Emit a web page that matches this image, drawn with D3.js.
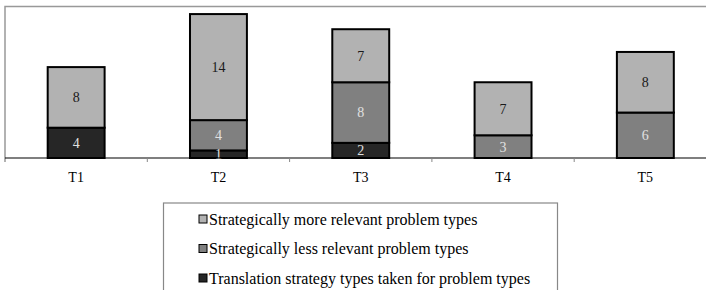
<!DOCTYPE html>
<html>
<head>
<meta charset="utf-8">
<script src="https://cdn.jsdelivr.net/npm/d3@7"></script>
<style>
  html, body { margin: 0; padding: 0; background: #fff; }
  svg { display: block; }
</style>
</head>
<body>
<div id="chart"></div>
<script>
// chart data
const categories = ["T1", "T2", "T3", "T4", "T5"];
const seriesNames = [
  "Translation strategy types taken for problem types",
  "Strategically less relevant problem types",
  "Strategically more relevant problem types"
];
const translationTaken = [4, 1, 2, 0, 0];
const lessRelevant = [0, 4, 8, 3, 6];
const moreRelevant = [8, 14, 7, 7, 8];
const seriesColors = ["#262626", "#808080", "#b2b2b2"];
const labelColors = ["#e0e0e0", "#e0e0e0", "#1a1a1a"];

const serif = "Liberation Serif, Times New Roman, DejaVu Serif, serif";
const width = 706, height = 290;
const plot = { left: 5, top: 6.5, bottom: 158 };
const step = 142.3;

const rows = categories.map((c, i) => ({
  cat: c,
  s0: translationTaken[i],
  s1: lessRelevant[i],
  s2: moreRelevant[i]
}));
const stack = d3.stack().keys(["s0", "s1", "s2"])(rows);

const svg = d3.select("#chart").append("svg")
  .attr("width", width)
  .attr("height", height)
  .attr("font-family", serif);

const x = d3.scaleBand()
  .domain(categories)
  .range([plot.left, plot.left + step * 5])
  .paddingInner(0.6)
  .paddingOuter(0.3);

const y = d3.scaleLinear()
  .domain([0, 20])
  .range([plot.bottom, plot.top]);

// plot area border (top + left)
svg.append("path")
  .attr("d", `M${plot.left},${plot.bottom + 4} V${plot.top} H${width}`)
  .attr("fill", "none")
  .attr("stroke", "#999")
  .attr("stroke-width", 1.5);

// bars
const layer = svg.selectAll("g.layer")
  .data(stack)
  .enter().append("g")
  .attr("class", "layer")
  .attr("fill", (d, i) => seriesColors[i]);

layer.selectAll("rect")
  .data(d => d.filter(p => p[1] - p[0] > 0))
  .enter().append("rect")
  .attr("x", d => x(d.data.cat))
  .attr("y", d => y(d[1]))
  .attr("width", x.bandwidth())
  .attr("height", d => y(d[0]) - y(d[1]))
  .attr("stroke", "#000")
  .attr("stroke-width", 2);

// value labels
stack.forEach((s, si) => {
  svg.append("g").selectAll("text")
    .data(s.filter(p => p[1] - p[0] > 0))
    .enter().append("text")
    .attr("font-family", serif)
    .attr("x", d => x(d.data.cat) + x.bandwidth() / 2)
    .attr("y", d => (y(d[0]) + y(d[1])) / 2)
    .attr("dy", "0.35em")
    .attr("text-anchor", "middle")
    .attr("font-size", 14)
    .attr("fill", labelColors[si])
    .text(d => d[1] - d[0]);
});

// x axis
const xAxis = svg.append("g")
  .attr("transform", `translate(0,${plot.bottom})`);
xAxis.append("line")
  .attr("x1", plot.left).attr("x2", width)
  .attr("stroke", "#000").attr("stroke-width", 1.2);
xAxis.selectAll("line.tick")
  .data(d3.range(1, 5))
  .enter().append("line")
  .attr("class", "tick")
  .attr("x1", i => plot.left + i * step)
  .attr("x2", i => plot.left + i * step)
  .attr("y1", 0).attr("y2", 4)
  .attr("stroke", "#888");
xAxis.selectAll("text")
  .data(categories)
  .enter().append("text")
  .attr("font-family", serif)
  .attr("x", d => x(d) + x.bandwidth() / 2)
  .attr("y", 24)
  .attr("text-anchor", "middle")
  .attr("font-size", 14)
  .attr("fill", "#000")
  .text(d => d);

// legend
const legend = svg.append("g");
legend.append("rect")
  .attr("x", 163.5).attr("y", 203)
  .attr("width", 394).attr("height", 100)
  .attr("fill", "#fff")
  .attr("stroke", "#888")
  .attr("stroke-width", 1.2);

const legendOrder = [2, 1, 0];
const item = legend.selectAll("g.item")
  .data(legendOrder)
  .enter().append("g")
  .attr("class", "item")
  .attr("transform", (d, i) => `translate(199,${219 + i * 29.5})`);
item.append("rect")
  .attr("x", 0).attr("y", -4)
  .attr("width", 8).attr("height", 8)
  .attr("fill", d => seriesColors[d])
  .attr("stroke", "#000")
  .attr("stroke-width", 1);
item.append("text")
  .attr("font-family", serif)
  .attr("x", 10)
  .attr("dy", "0.35em")
  .attr("font-size", 16)
  .attr("fill", "#000")
  .text(d => seriesNames[d]);
</script>
</body>
</html>
